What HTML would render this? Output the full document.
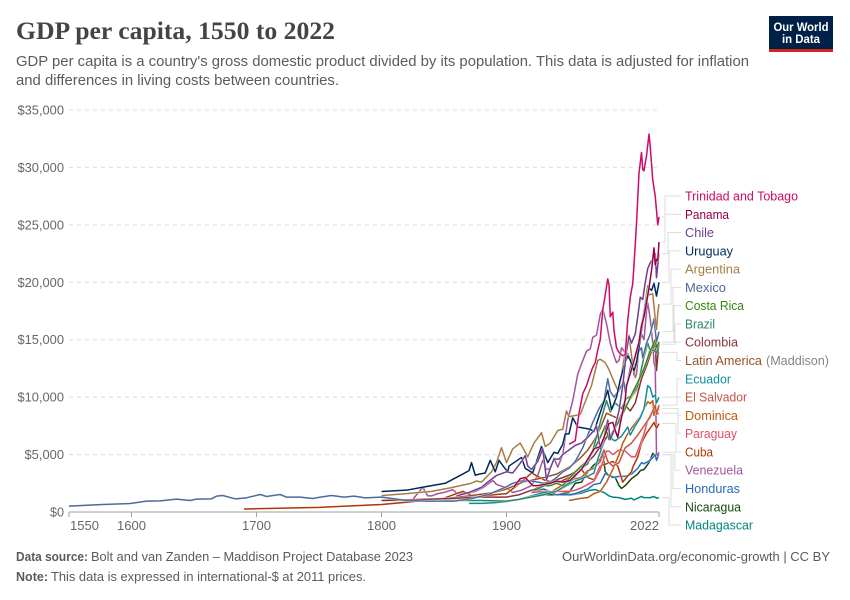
<!DOCTYPE html>
<html lang="en">
<head>
<meta charset="utf-8">
<title>GDP per capita, 1550 to 2022</title>
<style>
html,body{margin:0;padding:0;background:#fff;}
svg{display:block;font-family:"Liberation Sans",sans-serif;}
</style>
</head>
<body>
<svg id="chart" xmlns="http://www.w3.org/2000/svg" width="850" height="600" viewBox="0 0 850 600">
  <rect x="0" y="0" width="850" height="600" fill="#fff"/>
  <text x="16" y="39" font-family="'Liberation Serif',serif" font-weight="700" font-size="25" fill="#444" textLength="319" lengthAdjust="spacingAndGlyphs">GDP per capita, 1550 to 2022</text>
  <text x="16" y="66" font-size="15" fill="#5b5b5b" textLength="733" lengthAdjust="spacingAndGlyphs">GDP per capita is a country's gross domestic product divided by its population. This data is adjusted for inflation</text>
  <text x="16" y="85" font-size="15" fill="#5b5b5b" textLength="323" lengthAdjust="spacingAndGlyphs">and differences in living costs between countries.</text>
  <g>
    <rect x="769" y="16" width="64" height="36" fill="#002147"/>
    <rect x="769" y="49" width="64" height="3" fill="#ce261e"/>
    <text x="801" y="31" font-size="12" font-weight="700" fill="#fff" text-anchor="middle" textLength="55" lengthAdjust="spacingAndGlyphs">Our World</text>
    <text x="801" y="43" font-size="12" font-weight="700" fill="#fff" text-anchor="middle" textLength="38" lengthAdjust="spacingAndGlyphs">in Data</text>
  </g>
  <g id="grid"></g>
  <g id="xaxis"></g>
  <g id="connectors"></g>
  <g id="lines"></g>
  <g id="legend"></g>
  <text x="16" y="561" font-size="13" fill="#5b5b5b"><tspan font-weight="700" textLength="72" lengthAdjust="spacingAndGlyphs">Data source:</tspan><tspan x="91" textLength="322" lengthAdjust="spacingAndGlyphs">Bolt and van Zanden – Maddison Project Database 2023</tspan></text>
  <text x="562" y="561" font-size="13" fill="#5b5b5b" textLength="268" lengthAdjust="spacingAndGlyphs">OurWorldinData.org/economic-growth | CC BY</text>
  <text x="16" y="581" font-size="13" fill="#5b5b5b"><tspan font-weight="700" textLength="32" lengthAdjust="spacingAndGlyphs">Note:</tspan><tspan x="51" textLength="315" lengthAdjust="spacingAndGlyphs">This data is expressed in international-$ at 2011 prices.</tspan></text>
</svg>
<script>
const yTicks = [0, 5000, 10000, 15000, 20000, 25000, 30000, 35000];
const yTickLabels = ["$0", "$5,000", "$10,000", "$15,000", "$20,000", "$25,000", "$30,000", "$35,000"];
const xTicks = [1550, 1600, 1700, 1800, 1900, 2022];
const xTickLabels = ["1550", "1600", "1700", "1800", "1900", "2022"];

const yearsTrinidad = [1950,1955,1958,1961,1964,1967,1969,1971,1973,1975,1977,1979,1981,1982,1983,1985,1986,1988,1990,1993,1995,1997,1999,2001,2002,2004,2006,2008,2009,2010,2011,2012,2014,2015,2017,2019,2021,2022];
const valuesTrinidad = [5900,6200,8600,10300,11000,12000,12600,13000,14100,15000,17600,18900,20300,19800,17000,17400,15800,14300,13900,13600,13700,16700,18700,19900,21500,25100,29500,31300,29800,29700,30400,31000,32900,31800,28900,27500,25000,25700];
const yearsPanama = [1906,1911,1915,1921,1925,1930,1935,1940,1945,1951,1955,1960,1965,1970,1975,1978,1982,1985,1987,1989,1991,1995,1996,2000,2004,2006,2008,2010,2012,2014,2016,2018,2019,2020,2021,2022];
const valuesPanama = [2200,2900,3000,2300,2300,2400,2500,2700,2600,2750,3200,3700,4600,5500,5700,6500,7700,7800,7100,6500,7700,9800,11000,12400,14000,14800,16200,17000,18200,19500,21000,23000,21500,22000,21900,23500];
const yearsChile = [1860,1870,1880,1885,1892,1900,1905,1911,1915,1917,1920,1925,1929,1932,1935,1938,1942,1945,1950,1955,1960,1965,1970,1972,1975,1978,1981,1983,1986,1990,1993,1996,1998,2000,2003,2005,2007,2009,2011,2013,2015,2017,2018,2019,2020,2021,2022];
const valuesChile = [1400,1700,2150,2600,3180,3500,3400,4250,4900,4000,3700,4400,5500,2800,3800,4600,4600,5000,5400,5800,6000,6500,7100,7500,5500,6500,8000,6300,7100,8800,11000,14000,15300,14700,15500,17000,18700,18500,20000,21200,21700,22000,22300,22500,20400,21500,22500];
const yearsUruguay = [1800,1820,1835,1851,1865,1870,1872,1875,1878,1883,1887,1891,1894,1898,1901,1902,1912,1915,1921,1928,1933,1938,1941,1945,1947,1950,1953,1957,1967,1970,1973,1977,1981,1984,1988,1991,1994,1997,1999,2002,2004,2006,2008,2010,2012,2014,2016,2018,2020,2022];
const valuesUruguay = [1790,1900,2200,2500,3300,3600,4300,3200,3300,3400,4500,3500,4500,3900,3500,4000,4750,3800,3400,5700,4300,5200,5100,5900,6800,6800,8200,7400,7200,7000,8000,9300,10600,8900,10000,11500,12700,13600,13200,12300,13000,14300,15800,17300,18500,19500,19300,19900,18800,20000];
const yearsArgentina = [1800,1820,1840,1855,1871,1876,1880,1888,1892,1896,1900,1905,1911,1917,1922,1928,1931,1935,1941,1945,1948,1950,1955,1959,1963,1968,1973,1975,1979,1982,1985,1989,1991,1994,1998,2002,2005,2007,2010,2013,2014,2017,2019,2020,2021,2022];
const valuesArgentina = [1430,1600,1800,2100,2480,2700,2600,3500,4300,5600,4300,5500,6000,4800,6000,6900,5700,6000,7100,7200,8800,8300,8400,8500,9600,11000,13200,13300,13000,12400,11600,10600,11300,13300,15400,11900,14000,15800,17500,19700,18900,19000,16800,15900,17300,18100];
const yearsMexico = [1550,1577,1599,1612,1623,1636,1647,1652,1664,1668,1673,1683,1692,1703,1708,1719,1724,1735,1745,1751,1760,1770,1778,1787,1800,1810,1820,1836,1858,1871,1885,1900,1905,1911,1920,1930,1935,1940,1945,1950,1955,1961,1965,1969,1974,1978,1981,1983,1986,1990,1994,1995,1998,2000,2003,2006,2008,2009,2012,2015,2018,2020,2022];
const valuesMexico = [507,650,740,944,973,1118,1002,1118,1147,1379,1437,1147,1234,1524,1350,1524,1292,1292,1176,1292,1440,1292,1380,1233,1290,1150,1000,950,950,1150,1500,2200,2500,2700,2700,2500,2600,3000,3500,3800,4400,5600,6700,7800,9000,9700,11600,10500,10000,10600,11400,10400,12000,13000,12800,14000,14300,13400,14700,15500,16800,14800,15700];
const yearsCostaRica = [1920,1925,1930,1935,1940,1945,1950,1955,1960,1965,1970,1975,1979,1982,1985,1990,1995,2000,2005,2010,2015,2019,2020,2022];
const valuesCostaRica = [1900,2000,2300,2300,2500,2300,2900,3500,4000,4500,5400,6500,7500,6300,7000,7900,9000,10200,11300,12500,14000,15000,14300,14800];
const yearsBrazil = [1850,1880,1900,1910,1920,1930,1940,1950,1955,1960,1965,1970,1975,1980,1983,1987,1992,1996,2000,2005,2010,2013,2015,2018,2020,2022];
const valuesBrazil = [1000,1000,950,1100,1300,1500,1800,2500,3100,3800,4200,5700,7800,9700,8700,9500,9000,9900,10100,11000,13500,14700,14000,14100,13800,14600];
const yearsColombia = [1800,1850,1880,1900,1910,1920,1930,1940,1950,1960,1970,1980,1985,1990,1995,1999,2003,2008,2012,2016,2019,2020,2022];
const valuesColombia = [1000,1150,1300,1300,1500,1900,2300,2800,3200,3800,4900,6500,6800,8000,9300,8800,9500,11600,12700,14000,14700,12300,14800];
const yearsLatinAmerica = [1800,1820,1850,1870,1890,1900,1913,1930,1940,1950,1955,1960,1965,1970,1975,1980,1990,1995,2000,2005,2010,2013,2015,2017,2019,2020,2022];
const valuesLatinAmerica = [1000,1000,1150,1400,1700,2000,2600,3000,3300,3900,4300,4800,5400,6200,7300,8600,8100,9200,10000,10800,12400,13500,14200,14300,14000,13500,13900];
const yearsEcuador = [1870,1880,1890,1900,1910,1915,1920,1930,1940,1950,1955,1960,1965,1970,1973,1977,1981,1985,1987,1992,1997,1999,2003,2007,2010,2013,2015,2017,2019,2020,2022];
const valuesEcuador = [750,750,800,900,1100,1250,1400,1700,1800,2400,2700,2900,3100,3400,4600,5800,6800,6300,6200,6600,7400,6700,7500,8200,9000,11000,10800,10000,10200,9500,10000];
const yearsElSalvador = [1920,1935,1950,1955,1960,1965,1970,1975,1978,1981,1985,1990,1995,2000,2005,2010,2015,2019,2020,2022];
const valuesElSalvador = [1400,1700,2700,2900,3000,3600,3800,4400,5400,4400,4000,4300,5600,6000,6700,7500,8300,9300,8500,9300];
const yearsDominica = [1950,1955,1960,1965,1970,1975,1980,1985,1990,1993,1997,2000,2007,2010,2013,2015,2017,2018,2019,2020,2022];
const valuesDominica = [1000,1100,1200,1250,1600,1800,2600,3700,5000,6000,6800,7300,8300,9000,9600,9450,9700,8400,9300,8500,8600];
const yearsParaguay = [1920,1930,1940,1950,1955,1960,1965,1970,1975,1980,1982,1985,1990,1995,2000,2003,2006,2010,2013,2016,2019,2020,2022];
const valuesParaguay = [1700,1800,1800,1800,1900,2100,2400,2700,3700,5300,5300,5000,5400,5300,4800,4800,5600,6800,8000,8600,9000,8700,9000];
const yearsCuba = [1690,1750,1800,1820,1850,1865,1875,1890,1900,1913,1920,1930,1940,1950,1955,1958,1960,1965,1970,1975,1980,1985,1989,1993,1996,2000,2001,2005,2008,2012,2015,2018,2020,2022];
const valuesCuba = [260,400,650,850,1200,1800,1300,1500,1600,2700,3400,2800,2500,3000,3300,3500,3700,3000,2800,4000,4200,4400,4000,2600,3000,3500,3900,4800,6000,6850,7300,7800,7300,7700];
const yearsVenezuela = [1820,1825,1833,1837,1840,1845,1850,1857,1860,1868,1875,1881,1889,1892,1900,1905,1912,1920,1925,1929,1932,1935,1938,1941,1945,1949,1953,1957,1960,1964,1967,1969,1972,1975,1977,1980,1983,1986,1988,1990,1992,1995,1997,2000,2003,2004,2006,2008,2010,2012,2013,2015,2017,2018,2019,2020,2021,2022];
const valuesVenezuela = [900,1100,2150,1400,1400,1600,1700,1950,1650,1600,1800,2100,2750,2400,2100,1700,1900,2300,3200,4500,3700,3800,4700,3900,5000,8000,9700,12000,12900,14000,14200,15200,15400,17200,17700,16400,14700,13600,13000,13200,14300,13900,13800,13000,11700,12000,14300,15500,15000,17500,18200,16800,14700,13000,12600,5100,4900,5200];
const yearsHonduras = [1920,1930,1940,1950,1955,1960,1965,1970,1975,1979,1985,1990,1995,2000,2005,2008,2010,2015,2019,2020,2022];
const valuesHonduras = [1800,2000,1500,1500,1600,1800,2000,2400,2500,3350,3000,3100,3100,3300,3800,4300,4200,4500,5000,4500,5000];
const yearsNicaragua = [1920,1930,1940,1950,1955,1960,1965,1970,1975,1977,1979,1982,1987,1990,1992,1995,2000,2005,2007,2010,2014,2017,2019,2022];
const valuesNicaragua = [1300,1500,1500,1700,2500,2600,3500,4100,4600,5200,3500,3200,3000,2300,2050,2300,2900,3300,3600,3700,4300,5100,4900,5000];
const yearsMadagascar = [1950,1955,1960,1967,1971,1975,1978,1982,1985,1990,1995,2000,2002,2005,2008,2010,2015,2018,2020,2022];
const valuesMadagascar = [1450,1550,1650,1900,1950,1800,1700,1400,1300,1250,1100,1200,1050,1200,1350,1250,1250,1350,1200,1250];

const seriesNames = ["Trinidad and Tobago","Panama","Chile","Uruguay","Argentina","Mexico","Costa Rica","Brazil","Colombia","Latin America","Ecuador","El Salvador","Dominica","Paraguay","Cuba","Venezuela","Honduras","Nicaragua","Madagascar"];
const seriesYears = [yearsTrinidad,yearsPanama,yearsChile,yearsUruguay,yearsArgentina,yearsMexico,yearsCostaRica,yearsBrazil,yearsColombia,yearsLatinAmerica,yearsEcuador,yearsElSalvador,yearsDominica,yearsParaguay,yearsCuba,yearsVenezuela,yearsHonduras,yearsNicaragua,yearsMadagascar];
const seriesValues = [valuesTrinidad,valuesPanama,valuesChile,valuesUruguay,valuesArgentina,valuesMexico,valuesCostaRica,valuesBrazil,valuesColombia,valuesLatinAmerica,valuesEcuador,valuesElSalvador,valuesDominica,valuesParaguay,valuesCuba,valuesVenezuela,valuesHonduras,valuesNicaragua,valuesMadagascar];
const seriesColors = ["#cf0a66","#970046","#6d3e91","#00295b","#a67c45","#4c6a9c","#338711","#2c8465","#883039","#9a5129","#0e8f9c","#c4523e","#be5915","#e04e66","#b13507","#a2559c","#286bbb","#18470f","#00847e"];

const NS = "http://www.w3.org/2000/svg";
const plot = { left: 69, right: 659, zero: 512, top: 110, xMin: 1550, xMax: 2022, yMax: 35000 };
function xScale(year) { return plot.left + (year - plot.xMin) / (plot.xMax - plot.xMin) * (plot.right - plot.left); }
function yScale(value) { return plot.zero - value / plot.yMax * (plot.zero - plot.top); }
function make(parent, tag, attrs, text) {
  const el = document.createElementNS(NS, tag);
  for (const k in attrs) el.setAttribute(k, attrs[k]);
  if (text !== undefined) el.textContent = text;
  document.getElementById(parent).appendChild(el);
  return el;
}
function slug(s) { return s.toLowerCase().replace(/[^a-z0-9]+/g, "-"); }

yTicks.forEach(function (t, i) {
  const y = yScale(t);
  if (t > 0) {
    const g = make("grid", "line", { x1: plot.left, x2: plot.right, y1: y, y2: y, stroke: "#ddd", "stroke-width": 1, "stroke-dasharray": "4,4" });
    
    
  }
  const l = make("grid", "text", { x: 64, y: y + 4.5, "text-anchor": "end", "font-size": 13, fill: "#666", textLength: 7 * yTickLabels[i].length - (i === 0 ? 0 : 2.5), lengthAdjust: "spacingAndGlyphs" }, yTickLabels[i]);
  
  
});

const axisLine = make("xaxis", "line", { x1: plot.left, x2: plot.right, y1: plot.zero, y2: plot.zero, stroke: "#a1a1a1", "stroke-width": 1 });


xTicks.forEach(function (t, i) {
  const x = xScale(t);
  const tick = make("xaxis", "line", { x1: x, x2: x, y1: plot.zero, y2: plot.zero + 5, stroke: "#a1a1a1", "stroke-width": 1 });
  
  
  const first = i === 0, last = i === xTicks.length - 1;
  const lab = make("xaxis", "text", { x: first ? x + 1 : last ? x : x, y: 530, "text-anchor": first ? "start" : last ? "end" : "middle", "font-size": 13, fill: "#666", textLength: 29, lengthAdjust: "spacingAndGlyphs" }, xTickLabels[i]);
  
  
});

const legendTop = 196, legendStep = 18.28;
const labelWidths = [113,44,29,48,55,41,59,30,53,77,46,62,53,52,28,58,55,56,68];
const elbowXs = [665,665,668,669,671,673,674,675,676,677,677,677,678,678,676,675,673,671,669];

seriesNames.forEach(function (name, i) {
  const yEnd = yScale(seriesValues[i][seriesValues[i].length - 1]);
  const yLab = legendTop + i * legendStep;
  const c = make("connectors", "path", { d: "M662," + yEnd + "H" + elbowXs[i] + "V" + yLab + "H681", fill: "none", stroke: "#ddd", "stroke-width": 1 });
  
  

  const t = make("legend", "text", { x: 685, y: yLab + 4.5, "font-size": 13, fill: seriesColors[i], textLength: labelWidths[i], lengthAdjust: "spacingAndGlyphs" }, name);
  
  
  if (name === "Latin America") {
    const q = make("legend", "text", { x: 766, y: yLab + 4.5, "font-size": 13, fill: "#858585", textLength: 63, lengthAdjust: "spacingAndGlyphs" }, "(Maddison)");
    
    
  }
});

for (let i = seriesNames.length - 1; i >= 0; i--) {
  const d = seriesYears[i].map(function (yr, j) {
    return (j ? "L" : "M") + xScale(yr).toFixed(2) + "," + yScale(seriesValues[i][j]).toFixed(2);
  }).join("");
  const halo = make("lines", "path", { d: d, fill: "none", stroke: "#fff", "stroke-width": 2.4, "stroke-linejoin": "round", opacity: 0.7 });
  
  
  const p = make("lines", "path", { d: d, fill: "none", stroke: seriesColors[i], "stroke-width": 1.5, "stroke-linejoin": "round" });
  
  
}
</script>
</body>
</html>
